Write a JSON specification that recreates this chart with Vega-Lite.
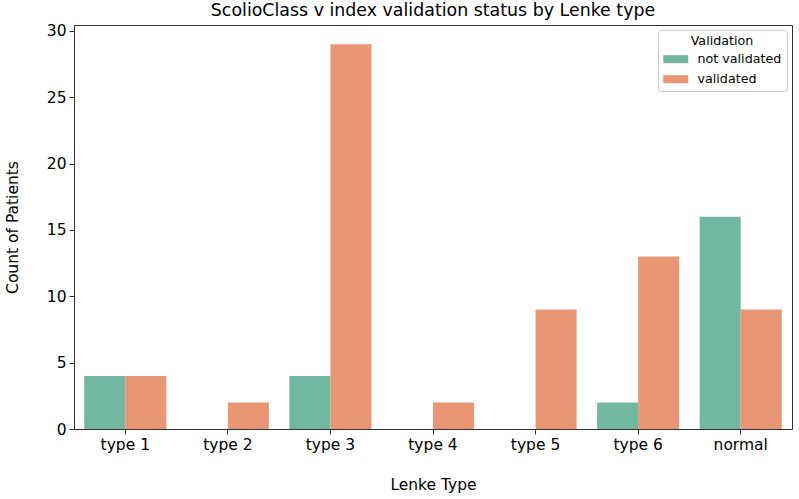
{
  "$schema": "https://vega.github.io/schema/vega-lite/v6.json",
  "width": 718,
  "height": 404,
  "autosize": "none",
  "padding": {"left": 74, "top": 25, "right": 7, "bottom": 70},
  "background": "white",
  "title": {
    "text": "ScolioClass v index validation status by Lenke type",
    "font": "DejaVu Sans",
    "fontSize": 17.4,
    "fontWeight": "normal",
    "color": "#000000",
    "offset": 5
  },
  "data": {
    "values": [
      {"lenke": "type 1", "validation": "not validated", "count": 4},
      {"lenke": "type 1", "validation": "validated", "count": 4},
      {"lenke": "type 2", "validation": "not validated", "count": 0},
      {"lenke": "type 2", "validation": "validated", "count": 2},
      {"lenke": "type 3", "validation": "not validated", "count": 4},
      {"lenke": "type 3", "validation": "validated", "count": 29},
      {"lenke": "type 4", "validation": "not validated", "count": 0},
      {"lenke": "type 4", "validation": "validated", "count": 2},
      {"lenke": "type 5", "validation": "not validated", "count": 0},
      {"lenke": "type 5", "validation": "validated", "count": 9},
      {"lenke": "type 6", "validation": "not validated", "count": 2},
      {"lenke": "type 6", "validation": "validated", "count": 13},
      {"lenke": "normal", "validation": "not validated", "count": 16},
      {"lenke": "normal", "validation": "validated", "count": 9}
    ]
  },
  "mark": {"type": "bar", "clip": true},
  "encoding": {
    "x": {
      "field": "lenke",
      "type": "nominal",
      "sort": ["type 1", "type 2", "type 3", "type 4", "type 5", "type 6", "normal"],
      "scale": {"paddingInner": 0.2, "paddingOuter": 0.1},
      "axis": {
        "title": "Lenke Type",
        "labelAngle": 0,
        "titlePadding": 25
      }
    },
    "xOffset": {
      "field": "validation",
      "type": "nominal",
      "scale": {"paddingInner": 0, "paddingOuter": 0}
    },
    "y": {
      "field": "count",
      "type": "quantitative",
      "scale": {"domain": [0, 30.45], "nice": false, "zero": true},
      "axis": {
        "title": "Count of Patients",
        "values": [0, 5, 10, 15, 20, 25, 30],
        "titlePadding": 26
      }
    },
    "color": {
      "field": "validation",
      "type": "nominal",
      "scale": {"domain": ["not validated", "validated"], "range": ["#71b7a1", "#e99675"]},
      "legend": {
        "title": "Validation",
        "orient": "top-right",
        "offset": 5,
        "fillColor": "white",
        "strokeColor": "#cccccc",
        "cornerRadius": 3,
        "padding": 5,
        "titleAnchor": "middle",
        "titleAlign": "center",
        "titlePadding": 5,
        "titleFont": "DejaVu Sans",
        "titleFontSize": 12.7,
        "titleFontWeight": "normal",
        "titleColor": "#000000",
        "labelFont": "DejaVu Sans",
        "labelFontSize": 12.7,
        "labelColor": "#000000",
        "symbolType": "M-1,-0.64h4v1.28h-4z",
        "symbolSize": 156,
        "symbolStrokeWidth": 0,
        "symbolOpacity": 1,
        "rowPadding": 6,
        "labelOffset": 21.5
      }
    }
  },
  "config": {
    "view": {"stroke": "#333333", "strokeWidth": 1},
    "axis": {
      "grid": false,
      "domainColor": "#333333",
      "tickColor": "#333333",
      "tickSize": 5,
      "labelFont": "DejaVu Sans",
      "labelFontSize": 15.5,
      "labelColor": "#000000",
      "labelPadding": 3,
      "titleFont": "DejaVu Sans",
      "titleFontSize": 15.5,
      "titleFontWeight": "normal",
      "titleColor": "#000000"
    }
  }
}
